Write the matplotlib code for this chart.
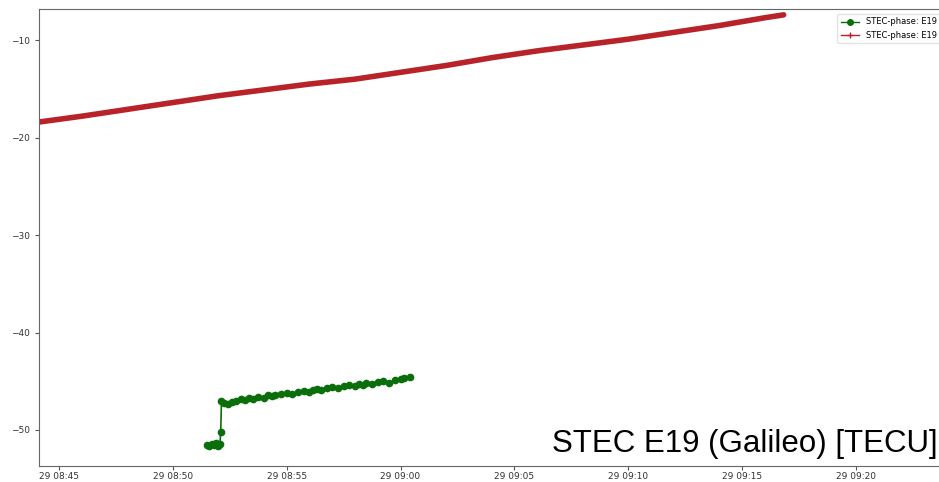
import matplotlib
matplotlib.use("Agg")
import matplotlib.pyplot as plt
import matplotlib.dates as mdates
from matplotlib.lines import Line2D
import pandas as pd

# red series: STEC-phase E19
red_times = ["08:44:07", "08:46:00", "08:48:00", "08:50:00", "08:52:00", "08:54:00",
             "08:56:00", "08:58:00", "09:00:00", "09:02:00", "09:04:00", "09:06:00",
             "09:08:00", "09:10:00", "09:12:00", "09:14:00", "09:16:00", "09:16:50"]
red_vals = [-18.4, -17.8, -17.1, -16.4, -15.7, -15.1,
            -14.5, -14.0, -13.3, -12.6, -11.8, -11.1,
            -10.5, -9.9, -9.2, -8.5, -7.7, -7.4]

# green series: STEC-phase E19
green_times = ["08:51:30", "08:51:36", "08:51:42", "08:51:48", "08:51:54", "08:52:00",
               "08:52:04", "08:52:06", "08:52:08", "08:52:15", "08:52:25", "08:52:35",
               "08:52:45", "08:53:00", "08:53:10", "08:53:20", "08:53:30", "08:53:45",
               "08:54:00", "08:54:10", "08:54:20", "08:54:30", "08:54:45", "08:55:00",
               "08:55:15", "08:55:30", "08:55:45", "08:56:00", "08:56:10", "08:56:20",
               "08:56:30", "08:56:45", "08:57:00", "08:57:15", "08:57:30", "08:57:45",
               "08:58:00", "08:58:10", "08:58:20", "08:58:30", "08:58:45", "08:59:00",
               "08:59:15", "08:59:30", "08:59:45", "09:00:00", "09:00:10", "09:00:24"]
green_vals = [-51.5, -51.6, -51.4, -51.5, -51.3, -51.6,
              -51.4, -50.2, -47.0, -47.2, -47.3, -47.1, -47.0, -46.8,
              -46.9, -46.7, -46.8, -46.6, -46.7, -46.4, -46.5, -46.4,
              -46.3, -46.2, -46.3, -46.1, -46.0, -46.1, -45.9, -45.8,
              -45.9, -45.7, -45.6, -45.7, -45.5, -45.4, -45.5, -45.3,
              -45.4, -45.2, -45.3, -45.1, -45.0, -45.2, -44.9, -44.8,
              -44.7, -44.6]

day = "2023-03-29 "
red_t = pd.to_datetime([day + t for t in red_times])
green_t = pd.to_datetime([day + t for t in green_times])

red_c = "#b8232a"
green_c = "#0a6e0a"

fig = plt.figure(figsize=(9.39, 4.82), dpi=100)
ax = fig.add_axes([39 / 939, 1 - 466 / 482, (965 - 39) / 939, 457 / 482])

ax.plot(red_t, red_vals, color=red_c, lw=4.0, solid_capstyle="round",
        solid_joinstyle="round", zorder=2)
ax.plot(green_t, green_vals, color=green_c, lw=1.2, marker="o", ms=4.5,
        zorder=3)

ax.set_xlim(pd.Timestamp(day + "08:44:07"), pd.Timestamp(day + "09:24:48"))
ax.set_ylim(-53.7, -6.8)
ax.set_yticks([-10, -20, -30, -40, -50])
ax.xaxis.set_major_locator(mdates.MinuteLocator(byminute=range(0, 60, 5)))
ax.xaxis.set_major_formatter(mdates.DateFormatter("%d %H:%M"))
ax.tick_params(labelsize=6.5, labelcolor="#333333", color="#555555", length=3)
ax.tick_params(axis="x", pad=1.5)
for s in ax.spines.values():
    s.set_color("#666666")

handles = [Line2D([], [], color=green_c, lw=1, marker="o", ms=4),
           Line2D([], [], color=red_c, lw=1, marker="+", ms=4)]
ax.legend(handles, ["STEC-phase: E19", "STEC-phase: E19"], loc="upper left",
          bbox_to_anchor=(833 / 939, 1 - 10 / 482), bbox_transform=fig.transFigure,
          fontsize=6, frameon=True, edgecolor="#dddddd", handlelength=2.2)

fig.text(938 / 939, 1 - 452 / 482, "STEC E19 (Galileo) [TECU]",
         fontsize=22.5, family="Liberation Sans", va="baseline", ha="right")

fig.savefig("out.png", dpi=100)
